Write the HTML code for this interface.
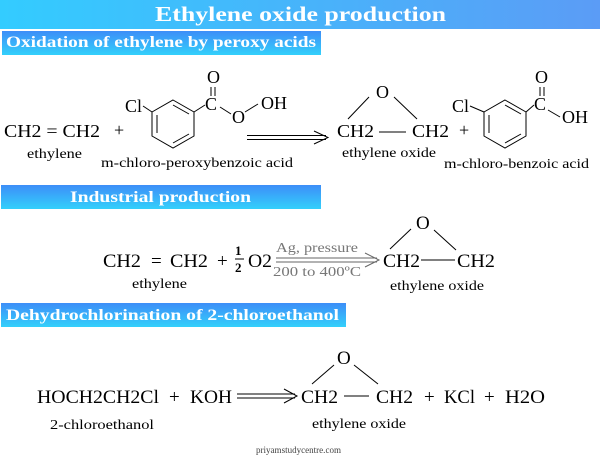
<!DOCTYPE html>
<html><head><meta charset="utf-8"><style>
html,body{margin:0;padding:0;background:#fff;}
svg{display:block;font-family:"Liberation Serif",serif;}
</style></head><body>
<svg width="600" height="460" viewBox="0 0 600 460" xmlns="http://www.w3.org/2000/svg">
<defs>
<linearGradient id="tg" x1="0" y1="0" x2="1" y2="0"><stop offset="0" stop-color="#33ccff"/><stop offset="1" stop-color="#5b9cf6"/></linearGradient>
<linearGradient id="hg" x1="0" y1="0" x2="0" y2="1"><stop offset="0" stop-color="#3d8ef8"/><stop offset="1" stop-color="#33d0fb"/></linearGradient>
</defs>
<rect x="0" y="0" width="600" height="29" fill="url(#tg)"/>
<text x="155" y="21" font-size="21" font-weight="bold" fill="#fff" textLength="291" lengthAdjust="spacingAndGlyphs">Ethylene oxide production</text>

<rect x="2" y="31" width="319" height="24" fill="url(#hg)"/>
<text x="6" y="47" font-size="16" font-weight="bold" fill="#fff" textLength="310" lengthAdjust="spacingAndGlyphs">Oxidation of ethylene by peroxy acids</text>

<rect x="1" y="185" width="320" height="24" fill="url(#hg)"/>
<text x="70" y="202" font-size="16" font-weight="bold" fill="#fff" textLength="181" lengthAdjust="spacingAndGlyphs">Industrial production</text>

<rect x="1" y="303" width="345" height="24" fill="url(#hg)"/>
<text x="6" y="320" font-size="16" font-weight="bold" fill="#fff" textLength="333" lengthAdjust="spacingAndGlyphs">Dehydrochlorination of 2-chloroethanol</text>

<g fill="#000" stroke="none">
<!-- row 1 -->
<text x="4" y="137" font-size="18" textLength="96" lengthAdjust="spacingAndGlyphs">CH2 = CH2</text>
<text x="114" y="136" font-size="18">+</text>
<text x="27" y="158" font-size="14" textLength="55" lengthAdjust="spacingAndGlyphs">ethylene</text>
<text x="101" y="167" font-size="14" textLength="192" lengthAdjust="spacingAndGlyphs">m-chloro-peroxybenzoic acid</text>
<text x="125" y="112" font-size="18">Cl</text>
<text x="205" y="110" font-size="18">C</text>
<text x="207" y="83" font-size="18">O</text>
<text x="232" y="123" font-size="18">O</text>
<text x="261" y="109" font-size="18">OH</text>

<text x="337" y="137" font-size="18" textLength="37" lengthAdjust="spacingAndGlyphs">CH2</text>
<text x="412" y="137" font-size="18" textLength="37" lengthAdjust="spacingAndGlyphs">CH2</text>
<text x="376" y="98" font-size="18">O</text>
<text x="342" y="157" font-size="14" textLength="94" lengthAdjust="spacingAndGlyphs">ethylene oxide</text>
<text x="459" y="136" font-size="18">+</text>
<text x="452" y="112" font-size="18">Cl</text>
<text x="534" y="110" font-size="18">C</text>
<text x="535" y="83" font-size="18">O</text>
<text x="562" y="123" font-size="18">OH</text>
<text x="444" y="168" font-size="14" textLength="145" lengthAdjust="spacingAndGlyphs">m-chloro-benzoic acid</text>

<!-- row 2 -->
<text x="103" y="267" font-size="19" textLength="38" lengthAdjust="spacingAndGlyphs">CH2</text>
<text x="151" y="267" font-size="19">=</text>
<text x="170" y="267" font-size="19" textLength="38" lengthAdjust="spacingAndGlyphs">CH2</text>
<text x="217" y="267" font-size="19">+</text>
<text x="235" y="255" font-size="13" font-weight="bold">1</text>
<text x="235" y="272" font-size="13" font-weight="bold">2</text>
<text x="248" y="267" font-size="19" textLength="24" lengthAdjust="spacingAndGlyphs">O2</text>
<text x="132" y="288" font-size="14" textLength="55" lengthAdjust="spacingAndGlyphs">ethylene</text>
<text x="276" y="252" font-size="14" fill="#777" textLength="82" lengthAdjust="spacingAndGlyphs">Ag, pressure</text>
<text x="273" y="276" font-size="14" fill="#777" textLength="88" lengthAdjust="spacingAndGlyphs">200 to 400ºC</text>
<text x="383" y="267" font-size="19" textLength="37" lengthAdjust="spacingAndGlyphs">CH2</text>
<text x="457" y="267" font-size="19" textLength="38" lengthAdjust="spacingAndGlyphs">CH2</text>
<text x="416" y="229" font-size="19">O</text>
<text x="390" y="290" font-size="14" textLength="94" lengthAdjust="spacingAndGlyphs">ethylene oxide</text>

<!-- row 3 -->
<text x="37" y="403" font-size="19" textLength="122" lengthAdjust="spacingAndGlyphs">HOCH2CH2Cl</text>
<text x="169" y="403" font-size="19">+</text>
<text x="190" y="403" font-size="19" textLength="42" lengthAdjust="spacingAndGlyphs">KOH</text>
<text x="301" y="403" font-size="19" textLength="37" lengthAdjust="spacingAndGlyphs">CH2</text>
<text x="376" y="403" font-size="19" textLength="37" lengthAdjust="spacingAndGlyphs">CH2</text>
<text x="424" y="403" font-size="19">+</text>
<text x="444" y="403" font-size="19" textLength="31" lengthAdjust="spacingAndGlyphs">KCl</text>
<text x="484" y="403" font-size="19">+</text>
<text x="505" y="403" font-size="19" textLength="40" lengthAdjust="spacingAndGlyphs">H2O</text>
<text x="337" y="364" font-size="19">O</text>
<text x="50" y="429" font-size="14" textLength="104" lengthAdjust="spacingAndGlyphs">2-chloroethanol</text>
<text x="312" y="428" font-size="14" textLength="94" lengthAdjust="spacingAndGlyphs">ethylene oxide</text>
<text x="256" y="453" font-size="9" fill="#444" textLength="85" lengthAdjust="spacingAndGlyphs">priyamstudycentre.com</text>
</g>

<g stroke="#000" stroke-width="1" fill="none">
<!-- ring 1 center (173,124) r 24 -->
<polygon points="173,100 194,112 194,136 173,148 152,136 152,112"/>
<line x1="157" y1="115" x2="157" y2="133"/>
<line x1="173" y1="143" x2="189" y2="134"/>
<line x1="173" y1="105" x2="189" y2="114"/>
<line x1="152" y1="112" x2="143" y2="106"/>
<line x1="194" y1="112" x2="205" y2="105"/>
<line x1="211" y1="87" x2="211" y2="96"/><line x1="215" y1="87" x2="215" y2="96"/>
<line x1="220" y1="107" x2="231" y2="114"/>
<line x1="245" y1="112" x2="258" y2="104"/>
<!-- arrow 1 -->
<path d="M247,135.5 H326 M247,139.5 H326"/>
<path d="M314,131 L328,137.5 L314,144"/>
<!-- epoxide 1 -->
<line x1="369" y1="97" x2="348" y2="119"/>
<line x1="394" y1="97" x2="417" y2="119"/>
<line x1="379" y1="132" x2="406" y2="132"/>
<!-- ring 2 center (505,124) -->
<polygon points="505,100 526,112 526,136 505,148 484,136 484,112"/>
<line x1="489" y1="115" x2="489" y2="133"/>
<line x1="505" y1="143" x2="521" y2="134"/>
<line x1="505" y1="105" x2="521" y2="114"/>
<line x1="484" y1="112" x2="470" y2="106"/>
<line x1="526" y1="112" x2="534" y2="105"/>
<line x1="540" y1="87" x2="540" y2="96"/><line x1="544" y1="87" x2="544" y2="96"/>
<line x1="548" y1="110" x2="560" y2="117"/>
<!-- row 2 -->
<line x1="235" y1="259" x2="244" y2="259"/>
<path d="M276,258 H377 M276,262 H377" stroke="#666"/>
<path d="M365,253 L379,260 L365,267" stroke="#666"/>
<line x1="411" y1="229" x2="390" y2="249"/>
<line x1="434" y1="230" x2="456" y2="250"/>
<line x1="421" y1="260" x2="455" y2="260"/>
<!-- row 3 -->
<path d="M237,394 H295 M237,398 H295"/>
<path d="M284,389 L297,396 L284,403"/>
<line x1="334" y1="365" x2="312" y2="384"/>
<line x1="354" y1="365" x2="378" y2="384"/>
<line x1="344" y1="396" x2="369" y2="396"/>
</g>
</svg>
</body></html>
